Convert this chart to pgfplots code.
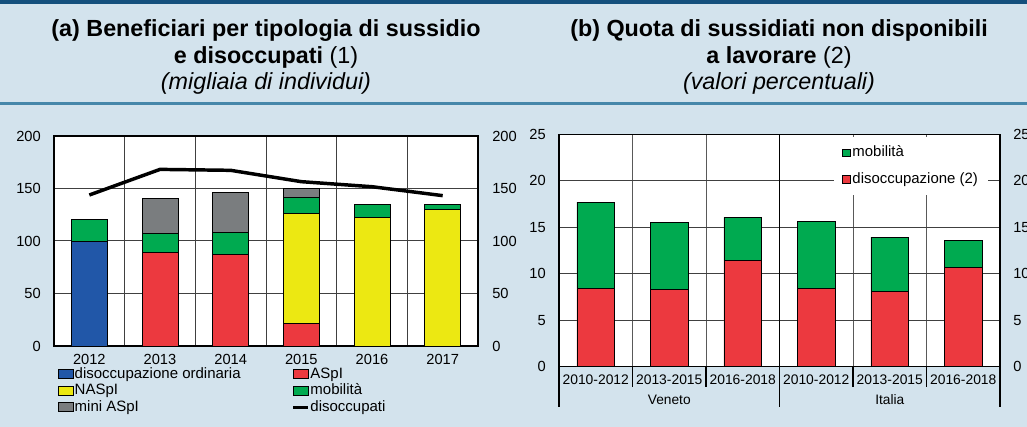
\documentclass[border=0pt]{standalone}
\usepackage{fontspec}
\setmainfont{Liberation Sans}
\usepackage{pgfplots}
\pgfplotsset{compat=1.18}

\definecolor{bg}{RGB}{211,227,237}
\definecolor{topline}{RGB}{20,80,125}
\definecolor{midline}{RGB}{70,135,170}
\definecolor{cBlue}{RGB}{33,87,168}
\definecolor{cRed}{RGB}{236,57,63}
\definecolor{cYellow}{RGB}{236,232,18}
\definecolor{cGreen}{RGB}{0,170,80}
\definecolor{cGrey}{RGB}{122,125,127}

\pgfplotsset{
  bank/.style={
    scale only axis,
    /pgf/number format/assume math mode=true,
    tick label style={font=\fontsize{11}{13}\selectfont},
    major tick length=0pt,
    axis line style={line width=0.8pt},
    grid style={line width=0.75pt, black!75},
  },
  barleg/.style={legend image code/.code={\draw[##1,line width=0.6pt] (0pt,-3.4pt) rectangle (11.25pt,3.4pt);}},
  sqleg/.style={legend image code/.code={\draw[##1,line width=0.6pt] (0pt,-2.9pt) rectangle (5.8pt,2.9pt);}},
}

\begin{document}
\begin{tikzpicture}[x=0.75pt,y=0.75pt]
\fill[bg] (0,0) rectangle (1027,427);
\fill[topline] (0,423) rectangle (1027,426.5);
\fill[midline] (0,427-105.5) rectangle (1027,427-102.5);

% titles
\node[anchor=base, font=\fontsize{17.5}{20}\selectfont\bfseries] at (266,427-37) {(a) Beneficiari per tipologia di sussidio};
\node[anchor=base, font=\fontsize{17.5}{20}\selectfont] at (266,427-64) {\textbf{e disoccupati} (1)};
\node[anchor=base, font=\fontsize{17.5}{20}\selectfont\itshape] at (266,427-90) {(migliaia di individui)};
\node[anchor=base, font=\fontsize{17.5}{20}\selectfont\bfseries] at (779,427-37) {(b) Quota di sussidiati non disponibili};
\node[anchor=base, font=\fontsize{17.5}{20}\selectfont] at (779,427-64) {\textbf{a lavorare} (2)};
\node[anchor=base, font=\fontsize{17.5}{20}\selectfont\itshape] at (779,427-90) {(valori percentuali)};

% (a) beneficiari
\begin{axis}[bank, axis background/.style={fill=white},
  at={(40.5pt,60.75pt)}, anchor=south west, width=318pt, height=157.5pt,
  ybar stacked, bar width=27pt,
  xmin=-0.5, xmax=5.5, ymin=0, ymax=200,
  xtick={0,1,2,3,4,5}, xticklabels={2012,2013,2014,2015,2016,2017},
  ytick={0,50,...,200},
  minor xtick={0.5,1.5,2.5,3.5,4.5}, minor tick length=0pt,
  ymajorgrids, xminorgrids,
  yticklabel style={anchor=east, inner sep=0pt, xshift=-9.75pt},
  xticklabel style={anchor=base, inner sep=0pt, yshift=-14.25pt},
  legend columns=2, legend cell align=left,
  legend style={draw=none, fill=none, at={(0.0094,-0.094)}, anchor=north west,
    inner sep=0pt, font=\fontsize{11.25}{13}\selectfont,
    nodes={inner xsep=0.5pt, inner ysep=1pt, text height=8pt, text depth=2.4pt},
    /tikz/every even column/.append style={column sep=37.5pt}},
]
\addplot[fill=cBlue, draw=black, barleg] coordinates {(0,100) (1,0) (2,0) (3,0) (4,0) (5,0)};
\addplot[fill=cRed, draw=black, barleg] coordinates {(0,0) (1,89) (2,87.6) (3,21.9) (4,0) (5,0)};
\addplot[fill=cYellow, draw=black, barleg] coordinates {(0,0) (1,0) (2,0) (3,104.1) (4,122.2) (5,130.2)};
\addplot[fill=cGreen, draw=black, barleg] coordinates {(0,20.5) (1,18.3) (2,20.3) (3,15.6) (4,12.4) (5,4.4)};
\addplot[fill=cGrey, draw=black, barleg] coordinates {(0,0) (1,33.3) (2,38.4) (3,8.2) (4,0) (5,0)};
\addlegendimage{legend image code/.code={\draw[black,line width=2.6pt] (0pt,0pt)--(11.25pt,0pt);}}
\legend{disoccupazione ordinaria, ASpI, NASpI, mobilità, mini ASpI, disoccupati}
\end{axis}
\begin{axis}[bank,
  at={(40.5pt,60.75pt)}, anchor=south west, width=318pt, height=157.5pt,
  xmin=-0.5, xmax=5.5, ymin=0, ymax=200,
  axis y line*=right, axis x line=none,
  ytick={0,50,...,200},
  yticklabel style={anchor=west, inner sep=0pt, xshift=10.5pt},
]
\addplot[black, line width=2.6pt, sharp plot, mark=none] coordinates {(0,143.8) (1,168.2) (2,167.3) (3,156.5) (4,151.7) (5,143.2)};
\end{axis}

% (b) quota
\begin{axis}[bank, axis background/.style={fill=white},
  at={(419.25pt,45.2pt)}, anchor=south west, width=330.75pt, height=174.5pt,
  ybar stacked, bar width=28.3pt, clip=false,
  xmin=-0.5, xmax=5.5, ymin=0, ymax=25, ytick={0,5,...,25},
  xtick={0,1,2,3,4,5},
  xticklabels={2010-2012,2013-2015,2016-2018,2010-2012,2013-2015,2016-2018},
  xticklabel style={font=\fontsize{10.4}{12}\selectfont, anchor=base, inner sep=0pt, yshift=-13pt},
  yticklabel style={anchor=east, inner sep=0pt, xshift=-9.75pt},
  minor xtick={0.5,1.5,2.5,3.5,4.5}, xminorgrids, ymajorgrids,
  minor grid style={line width=0.75pt, black!65},
  tick align=outside, xtick pos=left, ytick pos=left,
  minor tick length=15pt,
  minor x tick style={black, line width=0.8pt},
  extra x ticks={-0.5,2.5,5.5}, extra x tick labels={},
  extra x tick style={major tick length=30pt, xmajorgrids, major grid style={black, line width=0.8pt}, major x tick style={black, line width=0.8pt}},
  reverse legend, legend cell align=left,
  legend style={at={(0.973,0.987)}, anchor=north east, fill=white, draw=none,
    inner xsep=6pt, inner ysep=5.4pt, row sep=7.75pt, font=\fontsize{11.2}{13}\selectfont,
    nodes={inner xsep=1.5pt, inner ysep=1pt, text height=8pt, text depth=2.4pt}},
]
\addplot[fill=cRed, draw=black, sqleg] coordinates {(0,8.42) (1,8.31) (2,11.46) (3,8.42) (4,8.06) (5,10.68)};
\addplot[fill=cGreen, draw=black, sqleg] coordinates {(0,9.27) (1,7.23) (2,4.59) (3,7.16) (4,5.87) (5,2.89)};
\legend{disoccupazione (2), mobilità}
\node[anchor=base, font=\fontsize{10.3}{12}\selectfont, yshift=-28.7pt] at (axis cs:1,0) {Veneto};
\node[anchor=base, font=\fontsize{10.3}{12}\selectfont, yshift=-28.7pt] at (axis cs:4,0) {Italia};
\end{axis}
\begin{axis}[bank,
  at={(419.25pt,45.2pt)}, anchor=south west, width=330.75pt, height=174.5pt,
  xmin=-0.5, xmax=5.5, ymin=0, ymax=25,
  axis y line*=right, axis x line=none,
  ytick={0,5,...,25},
  yticklabel style={anchor=west, inner sep=0pt, xshift=9.75pt},
]
\addplot[draw=none, forget plot] coordinates {(0,0)};
\end{axis}

\pgfresetboundingbox
\useasboundingbox (0,0) rectangle (1027,427);
\end{tikzpicture}
\end{document}
